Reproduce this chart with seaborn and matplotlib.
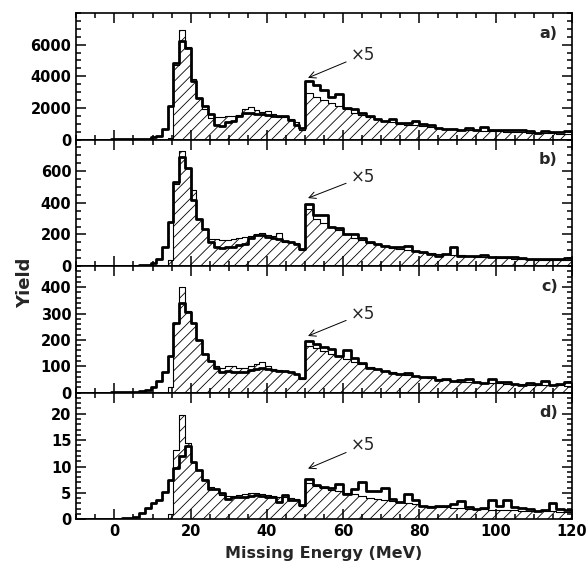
import numpy as np
import matplotlib.pyplot as plt
import seaborn as sns

sns.set_style("ticks")
plt.rcParams['font.family'] = ['DejaVu Sans']
plt.rcParams['font.weight'] = 'bold'
plt.rcParams['hatch.linewidth'] = 0.6
plt.rcParams['axes.linewidth'] = 1.2
plt.rcParams['axes.edgecolor'] = 'black'
plt.rcParams['axes.axisbelow'] = False

# bins: 1.5 MeV below 50 MeV, 2 MeV above (the part above 50 MeV is shown x5)
edges_lo = np.arange(-10, 50.01, 1.5)
edges_hi = np.arange(50, 120.01, 2.0)
edges = np.concatenate([edges_lo, edges_hi[1:]])
centers = (edges[:-1] + edges[1:]) / 2

# panel a)
hatch_a_lo = [0, 0, 0, 0, 0, 0, 0, 0, 0, 0, 0, 0, 0, 0, 0, 0, 100, 4700, 6900, 5850,
              3800, 2600, 1900, 1350, 1450, 1400, 1500, 1500, 1550, 1900,
              2050, 1850, 1750, 1800, 1600, 1450, 1400, 1300, 1100, 600]
hatch_a_hi = [2950, 2700, 2500, 2300, 2150, 1900, 1700, 1550, 1400, 1300,
              1200, 1100, 1000, 950, 900, 850, 780, 700, 670, 640,
              620, 600, 580, 560, 540, 520, 500, 480, 460, 440,
              420, 400, 390, 380, 370]
open_a_lo = [0, 0, 0, 0, 0, 0, 5, 10, 10, 15, 20, 30, 60, 150, 250, 690, 2140, 4820, 6250, 5770,
             3730, 2600, 2150, 1600, 900, 880, 1100, 1200, 1500, 1700,
             1650, 1600, 1600, 1560, 1500, 1470, 1470, 1250, 950, 700]
open_a_hi = [3700, 3450, 3150, 2700, 2850, 2000, 1900, 1650, 1500, 1300,
             1200, 1300, 1050, 1050, 1200, 1000, 900, 750, 650, 650,
             620, 700, 620, 780, 600, 600, 620, 580, 600, 560,
             420, 550, 480, 500, 520]

# panel b)
hatch_b_lo = [0, 0, 0, 0, 0, 0, 0, 0, 0, 0, 0, 0, 0, 0, 0, 0, 40, 520, 730, 620,
              480, 300, 235, 170, 170, 165, 165, 170, 180, 185,
              190, 205, 210, 195, 190, 210, 150, 150, 145, 100]
hatch_b_hi = [360, 300, 270, 250, 228, 205, 180, 165, 148, 138,
              125, 115, 108, 102, 95, 88, 82, 78, 75, 72,
              68, 64, 60, 58, 55, 52, 50, 47, 45, 42,
              40, 38, 37, 36, 36]
open_b_lo = [0, 0, 0, 0, 0, 0, 0, 1, 1, 2, 3, 4, 8, 20, 45, 120, 280, 530, 690, 620,
             420, 300, 235, 150, 120, 115, 118, 120, 135, 140,
             175, 195, 195, 185, 180, 170, 160, 150, 140, 110]
open_b_hi = [390, 320, 320, 250, 240, 200, 200, 175, 155, 140,
             128, 118, 118, 125, 98, 88, 75, 66, 78, 120,
             65, 62, 65, 70, 58, 55, 60, 56, 50, 48,
             45, 42, 42, 45, 50]

# panel c)
hatch_c_lo = [0, 0, 0, 0, 0, 0, 0, 0, 0, 0, 0, 0, 0, 0, 0, 0, 20, 265, 400, 310,
              265, 200, 145, 120, 100, 95, 100, 100, 92, 95,
              100, 108, 115, 100, 88, 85, 82, 78, 70, 50]
hatch_c_hi = [178, 168, 158, 148, 138, 128, 118, 108, 98, 90,
              83, 77, 72, 67, 62, 58, 54, 50, 47, 45,
              42, 40, 39, 38, 36, 35, 34, 33, 32, 31,
              30, 29, 28, 28, 27]
open_c_lo = [0, 0, 0, 0, 0, 0, 2, 2, 2, 3, 3, 5, 10, 20, 45, 80, 140, 265, 340, 305,
             265, 200, 145, 120, 95, 80, 82, 80, 78, 80,
             85, 88, 92, 88, 85, 84, 82, 80, 72, 55]
open_c_hi = [195, 185, 172, 165, 140, 160, 130, 112, 95, 88,
             82, 76, 72, 75, 62, 60, 58, 48, 50, 46,
             48, 52, 40, 38, 52, 42, 40, 32, 30, 35,
             33, 45, 28, 32, 42]

# panel d)
hatch_d_lo = [0, 0, 0, 0, 0, 0, 0, 0, 0, 0, 0, 0, 0, 0, 0, 0, 1.0, 13.1, 19.7, 14.4,
              10.9, 9.3, 7.4, 6.2, 5.8, 4.6, 4.5, 4.5, 4.6, 4.8,
              5.0, 5.0, 4.8, 4.6, 4.4, 4.3, 4.2, 4.0, 3.8, 2.6]
hatch_d_hi = [6.8, 6.3, 5.9, 5.6, 5.3, 5.0, 4.7, 4.4, 4.1, 3.8,
              3.6, 3.4, 3.2, 3.0, 2.8, 2.6, 2.5, 2.4, 2.3, 2.2,
              2.1, 2.0, 1.9, 1.9, 1.8, 1.8, 1.7, 1.7, 1.6, 1.6,
              1.5, 1.5, 1.5, 1.4, 1.4]
open_d_lo = [0, 0, 0, 0, 0, 0, 0.1, 0.1, 0.2, 0.3, 0.5, 1.2, 2.2, 3.0, 3.6, 5.2, 7.4, 9.7, 11.9, 13.8,
             10.9, 9.3, 7.4, 5.8, 5.8, 4.9, 3.9, 4.2, 4.2, 4.2,
             4.4, 4.6, 4.4, 4.2, 4.2, 3.3, 4.6, 3.6, 3.6, 2.7]
open_d_hi = [7.6, 6.5, 6.2, 6.0, 6.6, 4.8, 5.8, 7.0, 5.3, 5.3,
             6.0, 3.9, 3.3, 4.8, 3.6, 2.6, 2.4, 2.5, 2.5, 2.8,
             3.5, 2.4, 2.0, 2.2, 3.6, 2.5, 3.6, 2.4, 2.2, 2.0,
             1.6, 1.8, 3.0, 1.9, 1.8]

panel_labels = ["a)", "b)", "c)", "d)"]
ylims = [8000, 800, 480, 24]
yticks = [[0, 2000, 4000, 6000], [0, 200, 400, 600], [0, 100, 200, 300, 400], [0, 5, 10, 15, 20]]
yminor = [500, 50, 20, 1]
arrow_head = [3900, 430, 215, 9.6]
arrow_text = [5350, 565, 300, 14.0]

hatched = [hatch_a_lo + hatch_a_hi, hatch_b_lo + hatch_b_hi,
           hatch_c_lo + hatch_c_hi, hatch_d_lo + hatch_d_hi]
opened = [open_a_lo + open_a_hi, open_b_lo + open_b_hi,
          open_c_lo + open_c_hi, open_d_lo + open_d_hi]
bin_list = [float(e) for e in edges]

fig, axes = plt.subplots(4, 1, figsize=(5.87, 5.65), dpi=100, sharex=True)
plt.subplots_adjust(left=0.13, right=0.974, top=0.977, bottom=0.081, hspace=0)

for i, ax in enumerate(axes):
    sns.histplot(x=centers, weights=hatched[i], bins=bin_list, element="step", fill=True,
                 facecolor="white", edgecolor="black", linewidth=0.8, hatch="///",
                 alpha=1, ax=ax)
    sns.histplot(x=centers, weights=opened[i], bins=bin_list, element="step", fill=False,
                 color="black", linewidth=2.0, alpha=1, ax=ax)

    ax.set_xlim(-10, 120)
    ax.set_ylim(0, ylims[i])
    ax.set_yticks(yticks[i])
    ax.yaxis.set_minor_locator(plt.MultipleLocator(yminor[i]))
    ax.xaxis.set_major_locator(plt.MultipleLocator(20))
    ax.xaxis.set_minor_locator(plt.MultipleLocator(5))
    ax.set_axisbelow(False)
    ax.tick_params(axis='both', which='both', direction='in', bottom=True, top=True,
                   left=True, right=True, width=1.1, color='black', labelcolor='black')
    ax.tick_params(which='major', length=7, labelsize=10.5)
    ax.tick_params(which='minor', length=3.5)
    ax.set_ylabel("")
    ax.set_xlabel("")

    ax.text(0.972, 0.84, panel_labels[i], transform=ax.transAxes, ha='right',
            va='center', fontsize=11.5, fontweight='bold')
    ax.annotate("×5", xy=(50.8, arrow_head[i]), xytext=(62, arrow_text[i]),
                fontsize=12, fontweight='normal', va='center', ha='left',
                arrowprops=dict(arrowstyle="->", lw=0.7, color="black",
                                shrinkA=1, shrinkB=0))

axes[-1].set_xticks([0, 20, 40, 60, 80, 100, 120])
fig.text(0.043, 0.5, "Yield", rotation=90, ha='center', va='center',
         fontsize=13, fontweight='bold')
fig.text(0.552, 0.021, "Missing Energy (MeV)", ha='center', va='center',
         fontsize=11.5, fontweight='bold')

plt.savefig("out.png", dpi=100)
